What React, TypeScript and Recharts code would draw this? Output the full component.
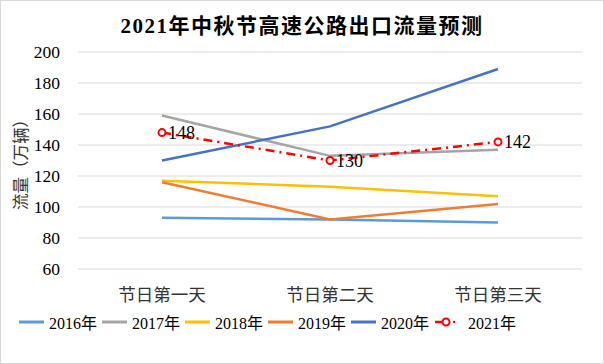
import { LineChart, Line, XAxis, YAxis, CartesianGrid, LabelList } from 'recharts'

const days = ['节日第一天', '节日第二天', '节日第三天']
const s2016 = [93, 92, 90]
const s2017 = [159, 133, 137]
const s2018 = [117, 113, 107]
const s2019 = [116, 92, 102]
const s2020 = [130, 152, 189]
const s2021 = [148, 130, 142]
const yTicks = [60, 80, 100, 120, 140, 160, 180, 200]

const series = [
    { key: 'y2016', name: '2016年', color: '#5B9BD5' },
    { key: 'y2017', name: '2017年', color: '#A5A5A5' },
    { key: 'y2018', name: '2018年', color: '#FFC000' },
    { key: 'y2019', name: '2019年', color: '#ED7D31' },
    { key: 'y2020', name: '2020年', color: '#4472C4' },
]

const data = days.map((d, i) => ({
    name: d,
    y2016: s2016[i],
    y2017: s2017[i],
    y2018: s2018[i],
    y2019: s2019[i],
    y2020: s2020[i],
    y2021: s2021[i],
}))

const FONT = "'Liberation Serif', 'Noto Sans CJK SC', serif"

function LegendBox() {
    const items = [...series, { key: 'y2021', name: '2021年', color: '#FF0000' }]
    return (
        <div style={{ position: 'absolute', left: 18, top: 309, display: 'flex', fontFamily: FONT, fontSize: 16, color: '#000' }}>
            {items.map((it) => (
                <div key={it.key} style={{ display: 'flex', alignItems: 'center', marginRight: 5 }}>
                    <svg width={it.key === 'y2021' ? 28 : 26} height={10} style={{ marginRight: it.key === 'y2021' ? 6 : 4 }}>
                        {it.key === 'y2021' ? (
                            <g>
                                <line x1={1} y1={5} x2={12} y2={5} stroke={it.color} strokeWidth={2.5} />
                                <circle cx={12} cy={5} r={3.5} fill="#fff" stroke={it.color} strokeWidth={2} />
                                <circle cx={20} cy={5} r={1.2} fill={it.color} />
                            </g>
                        ) : (
                            <line x1={0} y1={5} x2={25} y2={5} stroke={it.color} strokeWidth={3} />
                        )}
                    </svg>
                    <span>{it.name}</span>
                </div>
            ))}
        </div>
    )
}

export default function App() {
    return (
        <div style={{ position: 'relative', width: 604, height: 364, background: '#fff', boxSizing: 'border-box', border: '1px solid #d9d9d9' }}>
            <style>{`body{margin:0} svg text{font-family:${FONT} !important}`}</style>
            <div
                style={{
                    position: 'absolute',
                    top: 8,
                    left: 0,
                    width: '100%',
                    textAlign: 'center',
                    fontFamily: FONT,
                    fontWeight: 'bold',
                    fontSize: 21,
                    letterSpacing: 1.5,
                    color: '#000',
                }}
            >
                2021年中秋节高速公路出口流量预测
            </div>
            <LineChart width={602} height={362} data={data} margin={{ top: 51, right: 21, bottom: 54, left: 0 }} style={{ fontFamily: FONT }}>
                <CartesianGrid horizontal vertical={false} stroke="#d9d9d9" />
                <XAxis
                    dataKey="name"
                    padding={{ left: 84, right: 84 }}
                    axisLine={false}
                    tickLine={false}
                    tickMargin={14}
                    height={40}
                    tick={{ fill: '#333', fontSize: 17.5 }}
                />
                <YAxis
                    domain={[60, 200]}
                    ticks={yTicks}
                    width={77}
                    axisLine={false}
                    tickLine={false}
                    tickMargin={12}
                    tick={{ fill: '#000', fontSize: 17.5 }}
                    label={{
                        value: '流量（万辆）',
                        angle: -90,
                        position: 'insideLeft',
                        offset: 20,
                        style: { fill: '#333', fontSize: 16.5, textAnchor: 'middle' },
                    }}
                />
                {series.map((s) => (
                    <Line
                        key={s.key}
                        dataKey={s.key}
                        name={s.name}
                        type="linear"
                        stroke={s.color}
                        strokeWidth={2.5}
                        dot={false}
                        isAnimationActive={false}
                    />
                ))}
                <Line
                    dataKey="y2021"
                    name="2021年"
                    type="linear"
                    stroke="#FF0000"
                    strokeWidth={2.5}
                    strokeDasharray="9 5 2 5"
                    dot={{ r: 3.5, fill: '#fff', stroke: '#FF0000', strokeWidth: 2, strokeDasharray: '' }}
                    isAnimationActive={false}
                >
                    <LabelList dataKey="y2021" position="right" offset={6} style={{ fill: '#000', fontSize: 18 }} />
                </Line>
            </LineChart>
            <LegendBox />
        </div>
    )
}
